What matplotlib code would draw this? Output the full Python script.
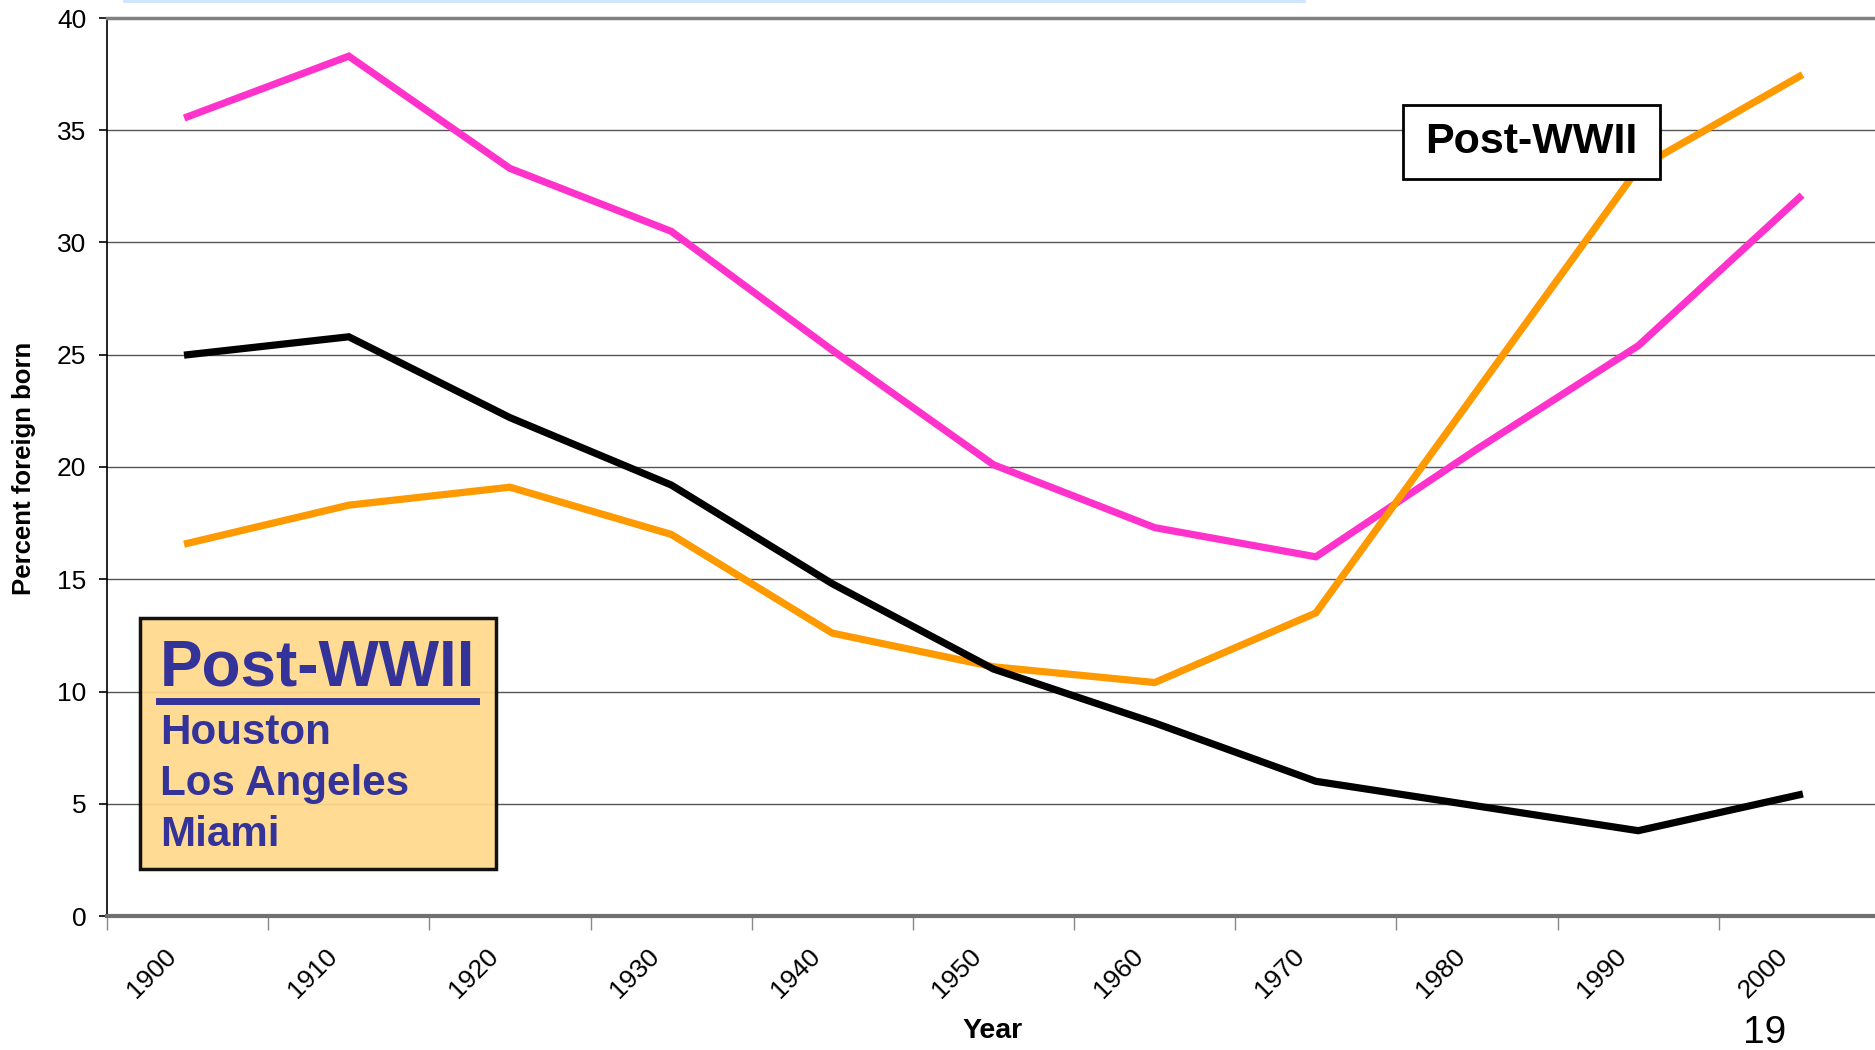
import matplotlib
matplotlib.use("Agg")
import matplotlib.pyplot as plt
import matplotlib.transforms as mtransforms

years = ["1900", "1910", "1920", "1930", "1940", "1950", "1960", "1970", "1980", "1990", "2000"]
pink_vals = [35.6, 38.3, 33.3, 30.5, 25.2, 20.1, 17.3, 16.0, 20.8, 25.4, 32.0]
orange_vals = [16.6, 18.3, 19.1, 17.0, 12.6, 11.1, 10.4, 13.5, 23.4, 33.3, 37.4]
black_vals = [25.0, 25.8, 22.2, 19.2, 14.8, 11.0, 8.6, 6.0, 4.9, 3.8, 5.4]
legend_cities = ["Houston", "Los Angeles", "Miami"]

plt.rcParams['font.family'] = ['Liberation Sans Narrow', 'Liberation Sans', 'DejaVu Sans']
bold_fam = ["Liberation Sans", "DejaVu Sans"]

fig = plt.figure(figsize=(18.75, 10.5), dpi=100)
ax = fig.add_axes([107 / 1875, 134 / 1050, 1773 / 1875, 898 / 1050])

x = list(range(len(years)))
ax.plot(x, pink_vals, color="#FF33CC", lw=5.2, solid_joinstyle="miter", zorder=3)
ax.plot(x, orange_vals, color="#FF9900", lw=5.2, solid_joinstyle="miter", zorder=3)
ax.plot(x, black_vals, color="black", lw=5.2, solid_joinstyle="miter", zorder=3)

ax.set_xlim(-0.5, len(years) - 0.5)
ax.set_ylim(0, 40)
ax.set_yticks(range(0, 41, 5))
ax.tick_params(axis="y", labelsize=19, length=6, width=1.2, pad=9)
ax.grid(axis="y", color="#555555", lw=1.0)

# category axis: tick marks between categories, labels at centers
ax.set_xticks([i - 0.5 for i in range(len(years) + 1)])
ax.set_xticklabels([])
ax.tick_params(axis="x", which="major", length=10, width=1, color="#888888", direction="out")
ax.set_xticks(x, minor=True)
ax.set_xticklabels(years, minor=True, rotation=45, ha="right", va="top",
                   rotation_mode="anchor", fontsize=19)
ax.tick_params(axis="x", which="minor", length=0, pad=20)
shift = mtransforms.ScaledTranslation(-0.24, 0.0, fig.dpi_scale_trans)
for lab in ax.get_xticklabels(minor=True):
    lab.set_transform(lab.get_transform() + shift)

ax.spines["right"].set_visible(False)
ax.spines["top"].set_color("#808080")
ax.spines["top"].set_linewidth(2.5)
ax.spines["bottom"].set_color("#707070")
ax.spines["bottom"].set_linewidth(3)
ax.spines["left"].set_linewidth(1.2)

fig.text(24 / 1875, 1 - 468 / 1050, "Percent foreign born", fontsize=18.5, fontweight="bold",
         family=bold_fam, rotation=90, ha="center", va="center")
fig.text(993 / 1875, 1 - 1031 / 1050, "Year", fontsize=20.5, fontweight="bold",
         family=bold_fam, ha="center", va="center")
fig.text(1765 / 1875, 1 - 1033 / 1050, "19", fontsize=28, ha="center", va="center",
         family=bold_fam)

# pale blue line along top (title box edge)
fig.add_artist(plt.Line2D([124 / 1875, 1304 / 1875], [0.999, 0.999],
                          color="#CCE5FF", lw=2, transform=fig.transFigure))

# legend box
fig.patches.append(plt.Rectangle((140 / 1875, 1 - 869 / 1050), 356 / 1875, 251 / 1050,
                                 transform=fig.transFigure, facecolor="#FFD98C",
                                 edgecolor="black", lw=2.5, zorder=5, alpha=0.93))
fig.text(160 / 1875, 1 - 668 / 1050, "Post-WWII", fontsize=46, fontweight="bold",
         color="#333399", ha="left", va="center", zorder=6, family=bold_fam)
fig.add_artist(plt.Line2D([159 / 1875, 476 / 1875], [1 - 701 / 1050, 1 - 701 / 1050],
                          color="#333399", lw=5, transform=fig.transFigure, zorder=6))
for i, city in enumerate(legend_cities):
    fig.text(160 / 1875, 1 - (733 + i * 51) / 1050, city, fontsize=30.3, fontweight="bold",
             color="#333399", ha="left", va="center", zorder=6, family=bold_fam)

# Post-WWII label box
fig.patches.append(plt.Rectangle((1403 / 1875, 1 - 179 / 1050), 257 / 1875, 74 / 1050,
                                 transform=fig.transFigure, facecolor="white",
                                 edgecolor="black", lw=2, zorder=5))
fig.text(1531 / 1875, 1 - 142 / 1050, "Post-WWII", fontsize=31, fontweight="bold",
         ha="center", va="center", zorder=6, family=bold_fam)

fig.savefig("out.png", dpi=100)
